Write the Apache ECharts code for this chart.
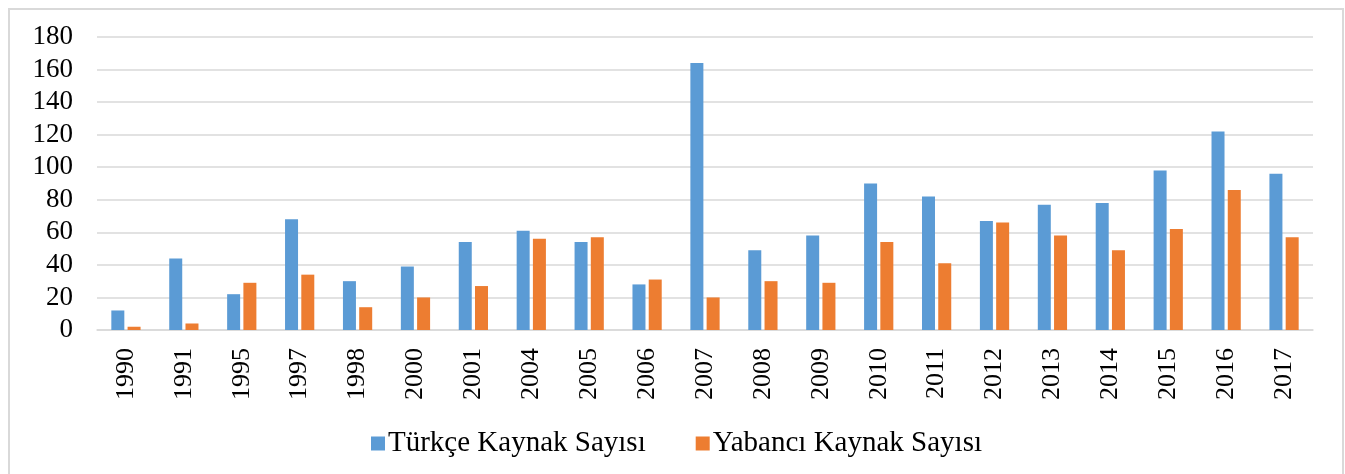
<!DOCTYPE html>
<html>
<head>
<meta charset="utf-8">
<script src="https://cdn.jsdelivr.net/npm/echarts@6/dist/echarts.min.js"></script>
<style>
  html, body { margin: 0; padding: 0; background: #fff; }
  #chart { width: 1345px; height: 474px; }
</style>
</head>
<body>
<div id="chart"></div>
<script>
var years = ["1990", "1991", "1995", "1997", "1998", "2000", "2001", "2004", "2005", "2006", "2007",
  "2008", "2009", "2010", "2011", "2012", "2013", "2014", "2015", "2016", "2017"];
var turkce = [12, 44, 22, 68, 30, 39, 54, 61, 54, 28, 164, 49, 58, 90, 82, 67, 77, 78, 98, 122, 96];
var yabanci = [2, 4, 29, 34, 14, 20, 27, 56, 57, 31, 20, 30, 29, 54, 41, 66, 58, 49, 62, 86, 57];
var seriesNames = ["Türkçe Kaynak Sayısı", "Yabancı Kaynak Sayısı"];

var font = "'Liberation Serif', 'Times New Roman', serif";
var myChart = echarts.init(document.getElementById("chart"));
var option = {
  backgroundColor: "#fff",
  animation: false,
  color: ["#5b9bd5", "#ed7d31"],
  graphic: [{
    type: "rect",
    shape: { x: 9, y: 9, width: 1334, height: 480 },
    style: { fill: "none", stroke: "#d9d9d9", lineWidth: 2 }
  }],
  grid: { left: 97, right: 32, top: 37, bottom: 144 },
  legend: {
    left: 366,
    top: 424,
    itemWidth: 14,
    itemHeight: 14,
    itemGap: 50,
    icon: "rect",
    textStyle: { fontFamily: font, fontSize: 29, color: "#000", padding: [0, 0, 0, -2] },
    data: seriesNames
  },
  xAxis: {
    type: "category",
    data: years,
    axisLine: { lineStyle: { color: "#d9d9d9", width: 1.5 } },
    axisTick: { show: false },
    axisLabel: {
      rotate: 90,
      interval: 0,
      margin: 18,
      fontFamily: font,
      fontSize: 26,
      color: "#000"
    }
  },
  yAxis: {
    type: "value",
    min: 0,
    max: 180,
    interval: 20,
    axisLine: { show: false },
    axisTick: { show: false },
    splitLine: { lineStyle: { color: "#d9d9d9", width: 1.5 } },
    axisLabel: { margin: 24, fontFamily: font, fontSize: 27, color: "#000" }
  },
  series: [
    {
      name: seriesNames[0],
      type: "bar",
      data: turkce,
      barWidth: 13,
      barGap: "25%"
    },
    {
      name: seriesNames[1],
      type: "bar",
      data: yabanci,
      barWidth: 13
    }
  ]
};
myChart.setOption(option);
</script>
</body>
</html>
